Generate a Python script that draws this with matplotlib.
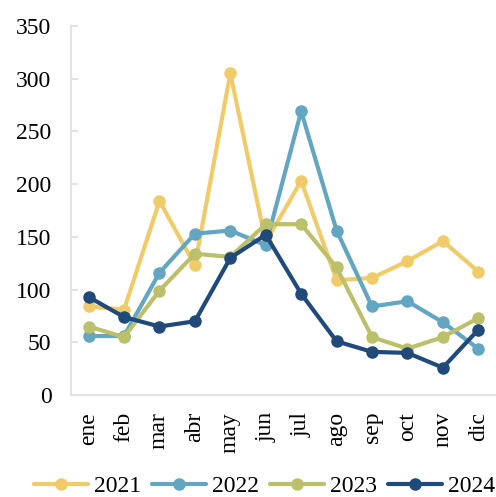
import matplotlib
matplotlib.use("Agg")
import matplotlib.pyplot as plt

months = ["ene", "feb", "mar", "abr", "may", "jun", "jul", "ago", "sep", "oct", "nov", "dic"]
years = ["2021", "2022", "2023", "2024"]
v2021 = [84, 81, 184, 123, 305, 145, 203, 109, 111, 127, 146, 117]
v2022 = [56, 56, 116, 153, 156, 142, 269, 156, 84, 89, 69, 44]
v2023 = [65, 55, 99, 134, 131, 162, 162, 121, 55, 44, 55, 73]
v2024 = [93, 74, 65, 70, 130, 152, 96, 51, 41, 40, 26, 62]
series = [v2021, v2022, v2023, v2024]
colors = ["#F0CB69", "#62A6C2", "#BDC06A", "#1F4A7A"]
yticks = [0, 50, 100, 150, 200, 250, 300, 350]

plt.rcParams['font.family'] = ['Liberation Serif', 'DejaVu Serif']

fig = plt.figure(figsize=(4.96, 4.97), dpi=100)
ax = fig.add_axes([0.143, 0.205, 0.857, 0.743])

x = list(range(len(months)))
for name, vals, c in zip(years, series, colors):
    ax.plot(x, vals, color=c, lw=3, marker='o', ms=8, label=name,
            solid_capstyle='round', solid_joinstyle='round')

ax.set_xlim(-0.5, len(months) - 0.5)
ax.set_ylim(0, 350)
ax.set_yticks(yticks)
ax.set_yticklabels([str(t) for t in yticks], fontsize=17)
ax.set_xticks(x)
ax.set_xticklabels(months, rotation=90, fontsize=17)

for s in ['top', 'right']:
    ax.spines[s].set_visible(False)
for s in ['left', 'bottom']:
    ax.spines[s].set_color('#E2E2E2')
    ax.spines[s].set_linewidth(1.5)
ax.tick_params(axis='y', direction='in', length=5, width=1.5, color='#E2E2E2', pad=14)
ax.tick_params(axis='x', length=0, pad=12)

fig.legend(loc='lower right', bbox_to_anchor=(0.998, 0.0), ncol=4, frameon=False,
           fontsize=17, handlelength=2.3, handletextpad=0.25, columnspacing=0.45,
           borderaxespad=0.0, borderpad=0.0)

fig.savefig("out.png", dpi=100)
